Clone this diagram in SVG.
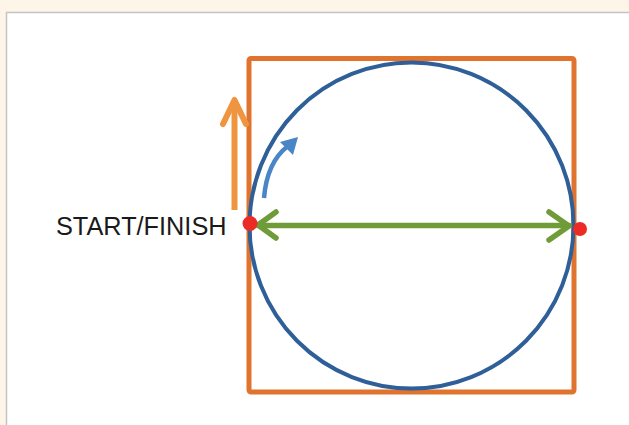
<svg xmlns="http://www.w3.org/2000/svg" width="629" height="425" viewBox="0 0 629 425">
<style>
.lbl{font-family:"Liberation Sans",Arial,sans-serif;font-size:25.3px;fill:#1a1a1a}
.green{stroke:#6f9b38;stroke-width:5.5;fill:none;stroke-linecap:round;stroke-linejoin:round}
</style>
<rect x="0" y="0" width="629" height="425" fill="#fdf5e8"/>
<rect x="6.5" y="12.5" width="630" height="420" fill="#ffffff" stroke="#c4c4c4" stroke-width="1.5"/>
<g id="square"><rect x="249" y="58.5" width="325" height="333.5" rx="2" fill="none" stroke="#e0742e" stroke-width="5"/></g>
<g id="circle"><ellipse cx="411.5" cy="225.5" rx="162" ry="163" fill="none" stroke="#2f5f98" stroke-width="4"/></g>
<g id="connectors">
<g id="diameter">
<line x1="258" y1="225.5" x2="569" y2="225.5" class="green"/>
<polyline points="276,212 258,225 276,238" class="green"/>
<polyline points="549,212 569,226 549,240" class="green"/>
</g>
<g id="orange-arrow">
<line x1="234.5" y1="210" x2="234.5" y2="101" stroke="#f0953f" stroke-width="6"/>
<polyline points="223,124 234.5,100 246,124" fill="none" stroke="#f0953f" stroke-width="6" stroke-linecap="round" stroke-linejoin="round"/>
</g>
<g id="blue-arrow">
<path d="M264,198 Q267,162 288,146" fill="none" stroke="#4a85c7" stroke-width="4.5"/>
<polygon points="298,137 280,142 293,155" fill="#4a85c7"/>
</g>
</g>
<g id="start"><circle cx="250" cy="223.5" r="7.5" fill="#ec2b25"/></g>
<g id="end"><circle cx="580" cy="229" r="7" fill="#ec2b25"/></g>
<text class="lbl" x="56" y="234.5">START/FINISH</text>
</svg>
